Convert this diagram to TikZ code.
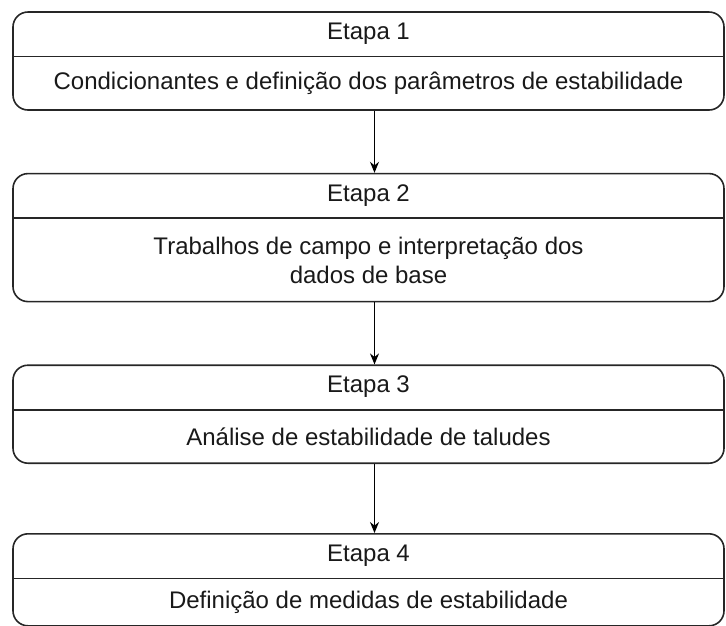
\documentclass[tikz,border=0pt]{standalone}
\usepackage{fontspec}
\setmainfont{Liberation Sans}
\usepackage{tikz}
\usetikzlibrary{arrows,arrows.meta,positioning,calc}

\begin{document}
\begin{tikzpicture}[x=1pt,y=1pt,% styles for every box of the flow chart
			every node/.style={
				align=center,		% so that "\\" breaks the line
				font=\fontsize{24}{29}\selectfont,
				text=black!90
			},
			etapa/.style={rectangle,rounded corners=15pt,draw=black!85,line width=1.6pt,
				minimum width=711pt,inner sep=0pt},
			titulo/.style={minimum width=711pt,minimum height=45pt,inner sep=0pt},
			divisor/.style={draw=black!85,line width=1.6pt},
			every edge/.style={draw,line width=1.3pt,>={Stealth[length=11pt,width=9pt]}}
		]
		\useasboundingbox (0,0) rectangle (726,-625);
		% the four boxes
		\node[etapa,minimum height=98pt](E1) at (368.5,-61){};
		\node[etapa,minimum height=128pt](E2)[below=62pt of E1]{};
		\node[etapa,minimum height=98pt](E3)[below=62pt of E2]{};
		\node[etapa,minimum height=92pt](E4)[below=69pt of E3]{};
		% titles and texts
		\node[titulo](T1)[below=0pt of E1.north]{Etapa 1};
		\node[titulo](T2)[below=0pt of E2.north]{Etapa 2};
		\node[titulo](T3)[below=0pt of E3.north]{Etapa 3};
		\node[titulo](T4)[below=0pt of E4.north]{Etapa 4};
		\node(D1) at ($(T1.south)!0.5!(E1.south)$){Condicionantes e definição dos parâmetros de estabilidade};
		\node(D2) at ($(T2.south)!0.5!(E2.south)$){Trabalhos de campo e interpretação dos\\ dados de base};
		\node(D3) at ($(T3.south)!0.5!(E3.south)$){Análise de estabilidade de taludes};
		\node(D4) at ($(T4.south)!0.5!(E4.south)$){Definição de medidas de estabilidade};
		\draw[divisor] (E1.west|-T1.south) -- (E1.east|-T1.south);
		\draw[divisor] (E2.west|-T2.south) -- (E2.east|-T2.south);
		\draw[divisor] (E3.west|-T3.south) -- (E3.east|-T3.south);
		\draw[divisor] (E4.west|-T4.south) -- (E4.east|-T4.south);
		\path[->]
		([xshift=6pt]E1.south)edge []	node [] {} ([xshift=6pt]E2.north)
		([xshift=6pt]E2.south)edge []	node [] {} ([xshift=6pt]E3.north)
		([xshift=6pt]E3.south)edge []	node [] {} ([xshift=6pt]E4.north)
		;
	\end{tikzpicture}
\end{document}
